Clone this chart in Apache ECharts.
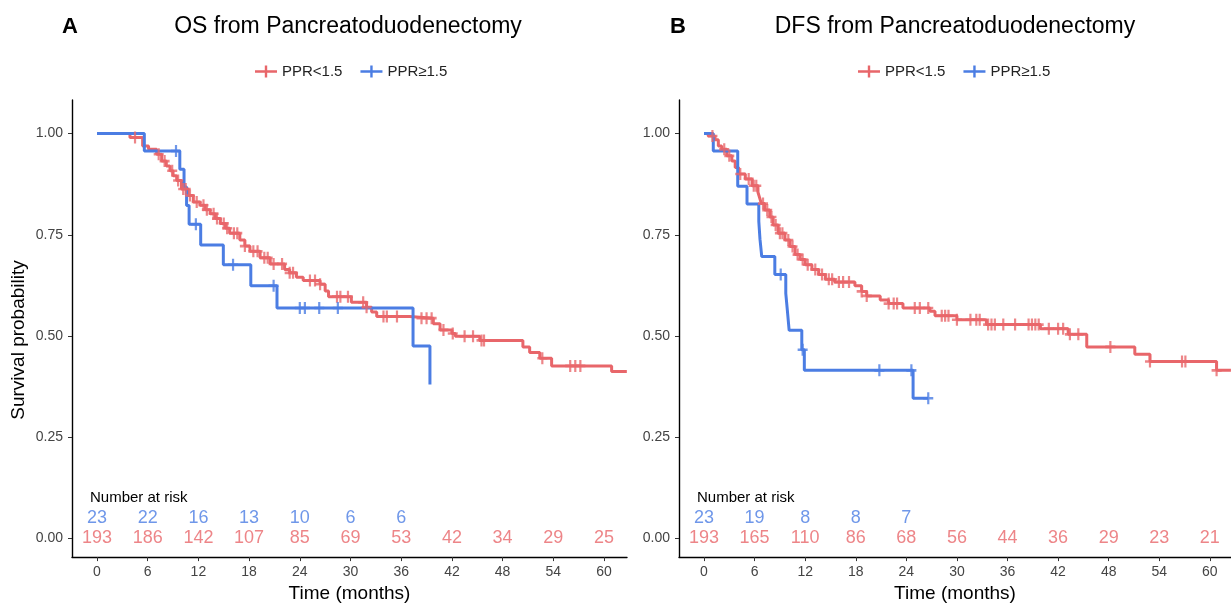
<!DOCTYPE html>
<html><head><meta charset="utf-8">
<script src="https://cdn.jsdelivr.net/npm/echarts@6/dist/echarts.min.js"></script>
<style>html,body{margin:0;padding:0;background:#fff}#c{width:1231px;height:608px}</style>
</head><body><div id="c"></div>
<script>
// ---------- DATA ----------
const seriesNames = ['PPR<1.5', 'PPR\u22651.5'];
const xTicks = [0, 6, 12, 18, 24, 30, 36, 42, 48, 54, 60];
const yTicks = [0, 0.25, 0.5, 0.75, 1];

// OS, PPR<1.5 : [time, survival]
const osLow = [[0,1.0],[3.9,0.99],[5.4,0.969],[6.1,0.961],[7.06,0.949],[7.65,0.932],[8.2,0.92],[8.64,0.908],[9.0,0.896],[9.43,0.884],[10.0,0.863],[10.8,0.847],[11.4,0.831],[12.2,0.823],[12.8,0.812],[13.4,0.802],[14.0,0.79],[14.6,0.778],[15.2,0.766],[15.7,0.754],[16.9,0.737],[17.5,0.722],[18.1,0.709],[19.3,0.693],[20.5,0.678],[22.2,0.664],[22.8,0.656],[23.6,0.645],[24.4,0.637],[26.4,0.628],[27.0,0.611],[27.4,0.597],[30.1,0.583],[31.9,0.571],[32.5,0.559],[33.1,0.548],[37.0,0.544],[39.8,0.530],[40.6,0.515],[42.0,0.506],[42.4,0.499],[45.3,0.489],[50.4,0.473],[51.2,0.459],[52.4,0.445],[53.8,0.426],[60.9,0.412],[62.7,0.412]];
const osLowCensor = [4.5,7.3,8.0,8.9,9.6,10.2,10.5,11.0,11.8,12.6,13.0,13.8,14.2,15.0,15.4,16.2,16.6,17.5,18.5,19.0,19.8,20.2,20.9,21.9,22.8,23.2,25.2,25.8,26.4,28.4,28.8,29.7,31.5,31.9,33.9,34.3,35.5,38.4,39.0,39.6,41.0,42.1,43.5,44.5,45.5,45.8,52.7,56.0,56.6,57.2];
// OS, PPR>=1.5
const osHigh = [[0,1.0],[5.6,0.957],[9.8,0.912],[10.3,0.868],[10.6,0.822],[10.9,0.776],[12.27,0.725],[14.95,0.676],[18.2,0.624],[21.3,0.569],[37.4,0.475],[39.4,0.38]];
const osHighCensor = [9.35,11.7,16.1,20.9,24.0,24.6,26.3,28.5];

// DFS, PPR<1.5
const dfsLow = [[0,1.0],[0.5,0.994],[1.3,0.985],[1.7,0.969],[2.1,0.961],[2.7,0.945],[3.3,0.932],[3.7,0.916],[4.1,0.900],[4.9,0.888],[5.7,0.871],[6.4,0.855],[6.6,0.841],[6.8,0.827],[7.2,0.811],[7.8,0.794],[8.2,0.774],[8.8,0.754],[9.6,0.737],[10.2,0.721],[10.8,0.701],[11.4,0.689],[12.0,0.676],[12.8,0.664],[13.6,0.652],[14.4,0.640],[15.5,0.633],[17.9,0.624],[18.7,0.610],[19.3,0.599],[20.9,0.589],[21.9,0.580],[23.6,0.569],[26.8,0.561],[27.4,0.550],[30.0,0.540],[33.5,0.528],[39.9,0.518],[43.2,0.504],[45.4,0.473],[51.1,0.455],[52.9,0.437],[60.8,0.415],[62.5,0.415]];
const dfsLowCensor = [1.0,2.4,3.0,4.3,5.3,5.9,6.2,7.0,7.5,8.0,8.5,9.0,9.3,10.0,10.5,11.1,11.7,12.3,13.2,14.0,14.8,15.2,16.0,16.5,17.2,18.7,19.3,21.9,22.5,22.9,25.0,25.6,26.6,28.2,28.6,29.0,30.0,31.6,32.3,32.7,33.7,34.1,34.5,35.5,36.9,38.5,38.9,39.3,39.7,40.9,42.0,42.6,43.4,44.4,48.2,52.9,56.7,57.1,60.8];
// DFS, PPR>=1.5
const dfsHigh = [[0,1.0],[1.1,0.957],[4.0,0.870],[5.1,0.826],[6.5,0.783],[6.64,0.739],[6.85,0.696],[8.4,0.652],[9.7,0.605],[9.9,0.56],[10.1,0.514],[11.6,0.466],[11.9,0.415],[24.8,0.346],[26.6,0.346]];
const dfsHighCensor = [9.1,11.7,20.8,24.6,26.6];

// Number at risk
const riskTimes = [0, 6, 12, 18, 24, 30, 36, 42, 48, 54, 60];
const osRiskLow = [193,186,142,107,85,69,53,42,34,29,25];
const osRiskHigh = [23,22,16,13,10,6,6];
const dfsRiskLow = [193,165,110,86,68,56,44,36,29,23,21];
const dfsRiskHigh = [23,19,8,8,7];

// ---------- STYLE ----------
const RED = '#E8666A', BLUE = '#4B7DE3';
const FONT = '"Liberation Sans", Arial, Helvetica, sans-serif';
const PLUS = 'path://M3.9,0 L6.1,0 L6.1,10 L3.9,10 Z M0,3.9 L10,3.9 L10,6.1 L0,6.1 Z';
const LEG = 'path://M0,4.8 L22,4.8 L22,7.2 L0,7.2 Z M9.8,0 L12.2,0 L12.2,12 L9.8,12 Z';

function stepAt(curve, t) {
  let v = curve[0][1];
  for (const p of curve) { if (p[0] <= t) v = p[1]; else break; }
  return v;
}
function censor(curve, times) { return times.map(t => [t, stepAt(curve, t)]); }

const chart = echarts.init(document.getElementById('c'), null, {renderer: 'canvas'});

function xAxisCfg(gi, min, max) {
  return {
    gridIndex: gi, type: 'value', min: min, max: max,
    name: 'Time (months)', nameLocation: 'middle', nameGap: 24,
    nameTextStyle: {fontSize: 19, color: '#000', fontFamily: FONT},
    axisLine: {show: true, onZero: false, lineStyle: {color: '#000', width: 1.4}},
    axisTick: {show: true, length: 4, customValues: xTicks, lineStyle: {color: '#333'}},
    axisLabel: {customValues: xTicks, margin: 8, fontSize: 14, color: '#444', fontFamily: FONT},
    splitLine: {show: false}
  };
}
function yAxisCfg(gi) {
  return {
    gridIndex: gi, type: 'value', min: -0.0463, max: 1.0829,
    axisLine: {show: true, onZero: false, lineStyle: {color: '#000', width: 1.4}},
    axisTick: {show: true, length: 4, customValues: yTicks, lineStyle: {color: '#333'}},
    axisLabel: {customValues: yTicks, margin: 9, fontSize: 14, color: '#444', fontFamily: FONT,
      formatter: v => v.toFixed(2)},
    splitLine: {show: false}
  };
}
function lineS(name, data, color, ai) {
  return {name: name, type: 'line', step: 'end', data: data, xAxisIndex: ai, yAxisIndex: ai,
    showSymbol: false, symbol: 'none', lineStyle: {color: color, width: 3}, itemStyle: {color: color},
    clip: true, z: 3};
}
function censS(data, color, ai) {
  return {type: 'scatter', data: data, xAxisIndex: ai, yAxisIndex: ai, symbol: PLUS, symbolSize: [10, 12],
    itemStyle: {color: color}, z: 4, silent: true};
}
function riskS(times, counts, y, color, ai) {
  return {type: 'scatter', xAxisIndex: ai, yAxisIndex: ai, symbolSize: 1,
    itemStyle: {color: 'rgba(0,0,0,0)'}, silent: true, z: 5,
    label: {show: true, position: 'inside', formatter: p => p.value[2], color: color, fontSize: 18, fontFamily: FONT},
    data: counts.map((n, i) => [times[i], y, n])};
}
function legendCfg(left) {
  return {left: left, top: 59, itemWidth: 22, itemHeight: 12, itemGap: 18,
    data: seriesNames.map(n => ({name: n, icon: LEG})),
    textStyle: {fontSize: 15, color: '#222', fontFamily: FONT}};
}

const option = {
  animation: false,
  backgroundColor: '#fff',
  grid: [
    {left: 72, top: 100, width: 555, height: 463},
    {left: 679, top: 100, width: 552, height: 463}
  ],
  xAxis: [xAxisCfg(0, -2.959, 62.72), xAxisCfg(1, -2.966, 62.51)],
  yAxis: [yAxisCfg(0), yAxisCfg(1)],
  legend: [legendCfg(250), legendCfg(853)],
  series: [
    lineS(seriesNames[0], osLow, RED, 0),
    lineS(seriesNames[1], osHigh, BLUE, 0),
    censS(censor(osLow, osLowCensor), RED, 0),
    censS(censor(osHigh, osHighCensor), BLUE, 0),
    riskS(riskTimes, osRiskLow, 0, RED, 0),
    riskS(riskTimes, osRiskHigh, 0.051, BLUE, 0),
    lineS(seriesNames[0], dfsLow, RED, 1),
    lineS(seriesNames[1], dfsHigh, BLUE, 1),
    censS(censor(dfsLow, dfsLowCensor), RED, 1),
    censS(censor(dfsHigh, dfsHighCensor), BLUE, 1),
    riskS(riskTimes, dfsRiskLow, 0, RED, 1),
    riskS(riskTimes, dfsRiskHigh, 0.051, BLUE, 1)
  ],
  graphic: [
    {type: 'text', x: 70, y: 27, style: {text: 'A', font: 'bold 22px ' + FONT, fill: '#000', textAlign: 'center', textVerticalAlign: 'middle'}},
    {type: 'text', x: 348, y: 27, style: {text: 'OS from Pancreatoduodenectomy', font: '23px ' + FONT, fill: '#000', textAlign: 'center', textVerticalAlign: 'middle'}},
    {type: 'text', x: 678, y: 27, style: {text: 'B', font: 'bold 22px ' + FONT, fill: '#000', textAlign: 'center', textVerticalAlign: 'middle'}},
    {type: 'text', x: 955, y: 27, style: {text: 'DFS from Pancreatoduodenectomy', font: '23px ' + FONT, fill: '#000', textAlign: 'center', textVerticalAlign: 'middle'}},
    {type: 'text', x: 19, y: 340, rotation: Math.PI / 2, style: {text: 'Survival probability', font: '19px ' + FONT, fill: '#000', textAlign: 'center', textVerticalAlign: 'middle'}},
    {type: 'text', x: 90, y: 498, style: {text: 'Number at risk', font: '15px ' + FONT, fill: '#000', textAlign: 'left', textVerticalAlign: 'middle'}},
    {type: 'text', x: 697, y: 498, style: {text: 'Number at risk', font: '15px ' + FONT, fill: '#000', textAlign: 'left', textVerticalAlign: 'middle'}}
  ]
};
chart.setOption(option);
</script></body></html>
